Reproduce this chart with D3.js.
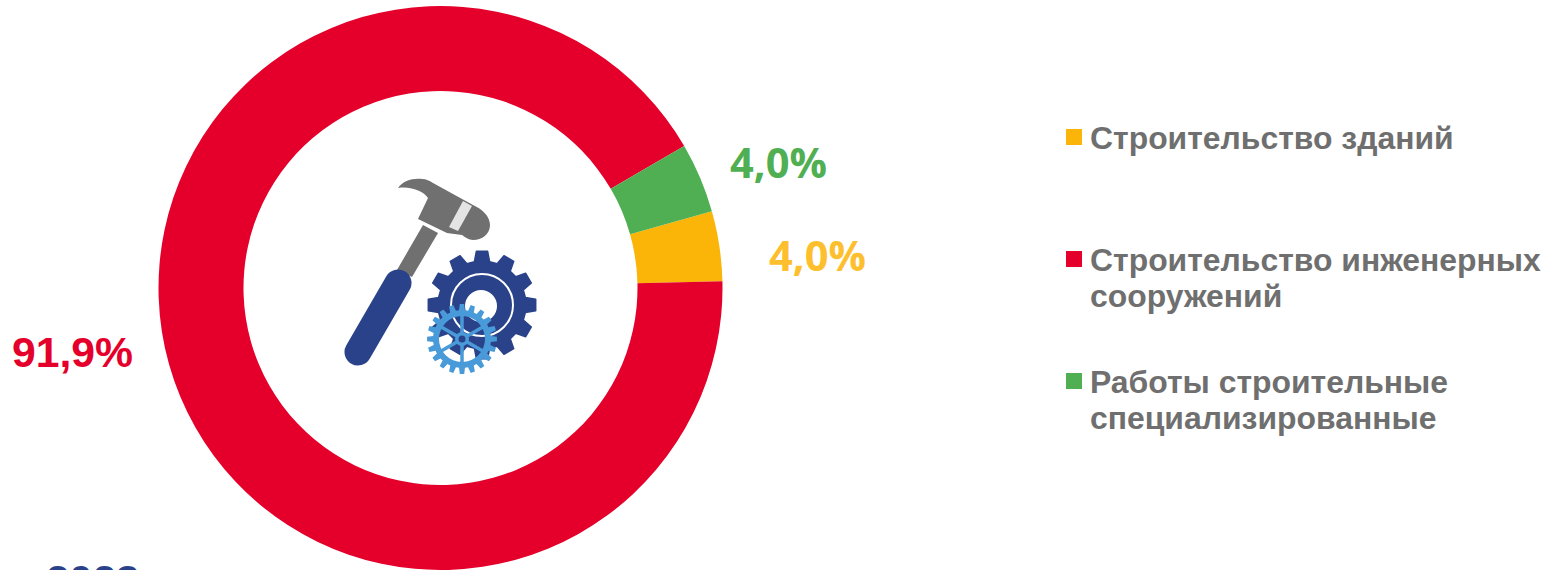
<!DOCTYPE html>
<html>
<head>
<meta charset="utf-8">
<script src="https://cdn.jsdelivr.net/npm/d3@7"></script>
<style>
    html, body { margin: 0; padding: 0; background: #fff; overflow: hidden; }
    svg { display: block; }
    .legend text { font: bold 31.9px "Liberation Sans", Arial, sans-serif; fill: #6f6f6f; }
    .pct { font: bold 41.6px "Open Sans", sans-serif; }
</style>
</head>
<body>
<svg id="chart" width="1559" height="570"></svg>
<script>
// Values
var categories = ["Строительство зданий", "Строительство инженерных сооружений", "Работы строительные специализированные"];
var shares = [4.0, 91.9, 4.0];
var yearLabel = "2023";
var colors = ["#fab508", "#e4002b", "#4faf52"];
var labelColors = ["#fdbf2d", "#e4002b", "#4faf52"];

var WIDTH = 1559, HEIGHT = 570;
var CX = 440.5, CY = 288, R_OUTER = 282, R_INNER = 197;
var START_ANGLE = 74.2 * Math.PI / 180;
var labelAnchors = [[769, 271], [12, 367], [730, 178]];
var legendY = [129, 251, 373];

var svg = d3.select("#chart");
var color = d3.scaleOrdinal().domain(categories).range(colors);
var formatShare = function (v) { return v.toFixed(1).replace(".", ",") + "%"; };

// donut
var pie = d3.pie().sort(null).value(function (d) { return d.share; })
    .startAngle(START_ANGLE).endAngle(START_ANGLE + 2 * Math.PI);
var arc = d3.arc().innerRadius(R_INNER).outerRadius(R_OUTER);
var rows = categories.map(function (c, i) { return { name: c, share: shares[i] }; });

svg.append("g").attr("transform", "translate(" + CX + "," + CY + ")")
    .selectAll("path").data(pie(rows)).join("path")
    .attr("d", arc)
    .attr("fill", function (d) { return color(d.data.name); });

// percent labels
svg.selectAll("text.pct").data(shares).join("text")
    .attr("class", "pct")
    .attr("x", function (d, i) { return labelAnchors[i][0]; })
    .attr("y", function (d, i) { return labelAnchors[i][1]; })
    .attr("fill", function (d, i) { return labelColors[i]; })
    .style("font-family", function (d, i) { return i === 1 ? '"Liberation Sans", Arial, sans-serif' : null; })
    .style("font-size", function (d, i) { return i === 1 ? "42.7px" : null; })
    .text(formatShare);

// year, cut off by the bottom edge in the source
svg.append("text").attr("x", 46).attr("y", 595)
    .style("font", 'bold 42px "Liberation Sans", Arial, sans-serif')
    .attr("fill", "#2a4289").text(yearLabel);

// legend
var legend = svg.append("g").attr("class", "legend");
categories.forEach(function (name, i) {
    legend.append("rect").attr("x", 1066).attr("y", legendY[i])
        .attr("width", 16).attr("height", 16).attr("fill", color(name));
    var text = legend.append("text");
    // wrap on width like the original text box
    var words = name.split(" "), line = [], lineNo = 0;
    var tspan = text.append("tspan").attr("x", 1090).attr("y", legendY[i] + 20);
    words.forEach(function (w) {
        line.push(w);
        tspan.text(line.join(" "));
        if (tspan.node().getComputedTextLength() > 460 && line.length > 1) {
            line.pop();
            tspan.text(line.join(" "));
            line = [w];
            lineNo += 1;
            tspan = text.append("tspan").attr("x", 1090).attr("y", legendY[i] + 20 + lineNo * 36).text(w);
        }
    });
});

// icon: coordinates are in a 220x210 box taken from the crop
function gearPath(cx, cy, outer, root, teeth) {
    var p = d3.path(), step = 2 * Math.PI / teeth;
    for (var i = 0; i < teeth; i++) {
        var a = i * step - Math.PI / 2;
        var pts = [[root, a - step * 0.33], [outer, a - step * 0.2], [outer, a + step * 0.2], [root, a + step * 0.33]];
        pts.forEach(function (q, j) {
            var x = cx + q[0] * Math.cos(q[1]), y = cy + q[0] * Math.sin(q[1]);
            if (i === 0 && j === 0) { p.moveTo(x, y); } else { p.lineTo(x, y); }
        });
    }
    p.closePath();
    return p.toString();
}

function circlePath(cx, cy, r) {
    var p = d3.path();
    p.moveTo(cx + r, cy);
    p.arc(cx, cy, r, 0, 2 * Math.PI);
    p.closePath();
    return p.toString();
}

svg.append("defs").append("filter").attr("id", "soft")
    .append("feGaussianBlur").attr("stdDeviation", 0.45);

var icon = svg.append("g").attr("transform", "translate(330,170)").attr("filter", "url(#soft)");
var NAVY = "#2a4289", GREY = "#6f6f6f", SKY = "#4a9ad8";

// hammer
icon.append("path").attr("fill", GREY)
    .attr("d", "M93 55 L108 63 L82 107 L67 100 Z");
icon.append("path").attr("fill", GREY)
    .attr("d", "M68 18 C73 11 82 8 92 9 C96 9 100 11 103 13 L143 35 C152 39 160 46 160 55 C160 64 152 70 143 70 C139 70 135 67 132 65 L117 63 L88 49 L98 28 C94 22 82 16 68 18 Z");
icon.append("path").attr("fill", "#e4e4e4")
    .attr("d", "M133 31 L142 36 L128 61 L119 57 Z");
icon.append("line").attr("x1", 68).attr("y1", 113).attr("x2", 28).attr("y2", 182)
    .attr("stroke", NAVY).attr("stroke-width", 27).attr("stroke-linecap", "round");

// big gear
icon.append("path").attr("fill", NAVY).attr("stroke", NAVY).attr("stroke-width", 1.5)
    .attr("stroke-linejoin", "round").attr("d", gearPath(152, 135, 54, 44, 12));
icon.append("circle").attr("cx", 152).attr("cy", 135).attr("r", 31)
    .attr("fill", "none").attr("stroke", "#fff").attr("stroke-width", 2);
icon.append("circle").attr("cx", 151).attr("cy", 136).attr("r", 16).attr("fill", "#fff");

// small gear
var smallCx = 132, smallCy = 169;
icon.append("path").attr("fill", SKY).attr("fill-rule", "evenodd")
    .attr("d", gearPath(smallCx, smallCy, 35, 29, 20) + circlePath(smallCx, smallCy, 23));
icon.selectAll("line.spoke").data(d3.range(6)).join("line")
    .attr("class", "spoke")
    .attr("x1", smallCx).attr("y1", smallCy)
    .attr("x2", function (d) { return smallCx + 25 * Math.cos(d * Math.PI / 3 + Math.PI / 6); })
    .attr("y2", function (d) { return smallCy + 25 * Math.sin(d * Math.PI / 3 + Math.PI / 6); })
    .attr("stroke", SKY).attr("stroke-width", 3.5);
icon.append("circle").attr("cx", smallCx).attr("cy", smallCy).attr("r", 7).attr("fill", SKY);
icon.append("circle").attr("cx", smallCx).attr("cy", smallCy).attr("r", 3.5).attr("fill", NAVY);
</script>
</body>
</html>
